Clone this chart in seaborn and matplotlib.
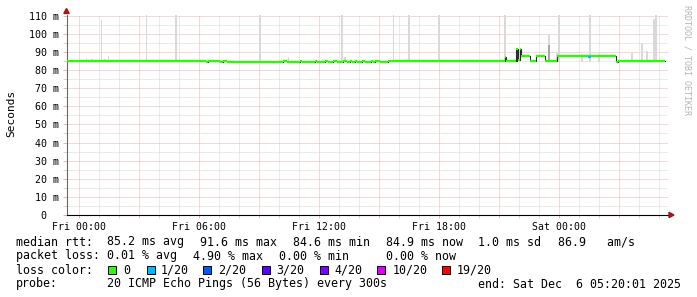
import matplotlib
matplotlib.use("Agg")
import matplotlib.pyplot as plt
import seaborn as sns
import numpy as np
from matplotlib.ticker import FixedLocator, MultipleLocator, FuncFormatter
from matplotlib.patches import Rectangle, Polygon

# ---------------- data ----------------
# time in hours relative to Fri 00:00
x_tick_hours = [0, 6, 12, 18, 24]
x_tick_labels = ["Fri 00:00", "Fri 06:00", "Fri 12:00", "Fri 18:00", "Sat 00:00"]
y_ticks = [0, 10, 20, 30, 40, 50, 60, 70, 80, 90, 100, 110]
y_tick_labels = ["0  ", "10 m", "20 m", "30 m", "40 m", "50 m", "60 m", "70 m",
                 "80 m", "90 m", "100 m", "110 m"]

# median rtt (ms) as step breakpoints
med_t = [-0.625, 6.35, 6.45, 7.05, 7.2, 7.4, 10.2, 10.4, 11.05, 11.15, 11.8, 11.9,
         12.3, 12.45, 12.7, 12.9, 13.2, 13.4, 13.55, 13.65, 13.8, 13.9, 14.15, 14.3,
         14.6, 14.7, 14.8, 15.05, 15.45, 21.275, 21.35, 21.825, 21.95, 22.025, 22.1,
         22.55, 22.85, 23.3, 23.9, 26.85, 26.95, 29.3]
med_v = [85.0, 84.4, 85.0, 84.4, 85.0, 84.4, 85.0, 84.4, 85.0, 84.4, 85.0, 84.4,
         85.0, 84.4, 85.0, 84.4, 85.0, 84.4, 85.0, 84.4, 85.0, 84.4, 85.0, 84.4,
         85.0, 84.4, 85.0, 84.4, 85.0, 87.3, 85.0, 91.5, 85.5, 91.5, 87.5,
         85.0, 87.5, 85.0, 87.6, 84.4, 85.0, 85.0]

# segment with packet loss (1/20)
loss_start = [25.425]
loss_end = [25.6]
loss_val = [87.3]
loss_level = [1]

# smoke (spread of pings): light spikes
smoke_t = [0.375, 0.635, 1.125, 1.30, 1.475, 3.375, 4.835, 9.05, 10.475, 13.15,
           13.30, 15.725, 16.375, 16.5, 18.0, 21.3, 23.5, 23.885, 24.015, 25.135,
           25.55, 26.0, 27.635, 28.135, 28.385, 28.75, 28.835]
smoke_top = [86.6, 86.1, 107.6, 86.1, 87.7, 115, 115, 115, 87.2, 115,
             87.2, 115, 86.1, 115, 115, 115, 99.3, 89.4, 115, 88.9,
             115, 88.9, 89.4, 94.9, 90.5, 108.0, 115]
smoke_base = 84.5
# dense smoke
dark_t = [21.8, 21.93, 22.05]
dark_lo = [84.4, 84.4, 84.4]
dark_hi = [91.9, 91.9, 91.9]
mid_t = [23.5]
mid_lo = [85.5]
mid_hi = [93.8]

loss_colors = ["#26ff00", "#00b8ff", "#0059ff", "#5e00ff", "#7e00ff", "#dd00ff", "#ff0000"]
loss_labels = ["0", "1/20", "2/20", "3/20", "4/20", "10/20", "19/20"]

rtt_head = "median rtt:"
rtt_items = ["85.2 ms avg", "91.6 ms max", "84.6 ms min", "84.9 ms now", "1.0 ms sd", "86.9   am/s"]
loss_head = "packet loss:"
loss_items = ["0.01 % avg", "4.90 % max", "0.00 % min", "0.00 % now"]
color_head = "loss color:"
probe_head = "probe:"
probe_items = ["20 ICMP Echo Pings (56 Bytes) every 300s", "end: Sat Dec  6 05:20:01 2025"]

# ---------------- style / layout ----------------
sns.set_theme(style="white")
plt.rcParams["font.family"] = ["DejaVu Sans Mono"]

W, H = 697, 297
def fx(x):
    return x / W
def fy(y):
    return 1 - y / H

fig = plt.figure(figsize=(W / 100, H / 100), dpi=100)
fig.patch.set_facecolor("white")
PX_PER_MS = 1.812
ax = fig.add_axes([fx(66.5), fy(215), (668 - 66.5) / W, 110.5 * PX_PER_MS / H])
ax.set_facecolor("white")
ax.set_xlim(-0.625, 29.45)
ax.set_ylim(0, 110.5)

MAJ = "#ebb5b5"
MIN = "#d6d6d6"
ax.yaxis.set_major_locator(FixedLocator(y_ticks))
ax.set_yticklabels(y_tick_labels)
ax.yaxis.set_minor_locator(FixedLocator([v + 5 for v in y_ticks[:-1]]))
ax.xaxis.set_major_locator(FixedLocator(np.arange(0, 29.5, 3)))
ax.xaxis.set_minor_locator(MultipleLocator(1))
lab = dict(zip(x_tick_hours, x_tick_labels))
ax.xaxis.set_major_formatter(FuncFormatter(lambda v, p: lab.get(int(round(v)), "")))

ax.grid(which="major", color=MAJ, linestyle=(0, (1, 1)), linewidth=0.72)
ax.grid(which="minor", color=MIN, linestyle=(0, (1, 1)), linewidth=0.72)
ax.set_axisbelow(True)

ax.tick_params(axis="y", which="major", left=True, length=3, width=0.72, color=MAJ,
               labelsize=7.2, labelcolor="black", pad=2.5)
ax.tick_params(axis="y", which="minor", left=True, length=3, width=0.72, color=MIN)
ax.tick_params(axis="x", which="major", bottom=True, length=2, width=0.72, color=MAJ,
               labelsize=7.1, labelcolor="black", pad=3)
ax.tick_params(axis="x", which="minor", bottom=True, length=2, width=0.72, color=MIN)

for s in ["top", "right"]:
    ax.spines[s].set_visible(False)
ax.spines["left"].set_color("#666666")
ax.spines["left"].set_linewidth(0.8)
ax.spines["bottom"].set_color("black")
ax.spines["bottom"].set_linewidth(0.8)

# ---------------- marks ----------------
ax.bar(smoke_t, np.array(smoke_top) - smoke_base, bottom=smoke_base, width=0.09,
       color="#d9d9d9", linewidth=0, zorder=2)
ax.bar(mid_t, np.array(mid_hi) - np.array(mid_lo), bottom=mid_lo, width=0.07,
       color="#a8a8a8", linewidth=0, zorder=2.5)
ax.bar(dark_t, np.array(dark_hi) - np.array(dark_lo), bottom=dark_lo, width=0.045,
       color="#303030", linewidth=0, zorder=2.6)

sns.lineplot(x=med_t, y=med_v, drawstyle="steps-post", color="#2a2a2a",
             linewidth=0.8, ax=ax, zorder=3)
ax.hlines(med_v[:-1], med_t[:-1], med_t[1:], color=loss_colors[0], linewidth=1.6, zorder=4)
ax.hlines(loss_val, loss_start, loss_end, color=[loss_colors[i] for i in loss_level],
          linewidth=1.6, zorder=5)
ax.set_xlabel("")
ax.set_ylabel("")

# arrows
fig.patches.append(Polygon([[fx(63.8), fy(13.5)], [fx(69.2), fy(13.5)], [fx(66.5), fy(8.5)]],
                           closed=True, transform=fig.transFigure, color="#a01818", zorder=10))
fig.patches.append(Polygon([[fx(669), fy(212.3)], [fx(669), fy(217.7)], [fx(674), fy(215)]],
                           closed=True, transform=fig.transFigure, color="#a01818", zorder=10))

# texts
fig.text(fx(11), fy(113.5), "Seconds", rotation=90, ha="center", va="center", fontsize=8, color="black")
fig.text(fx(687.5), fy(60), "RRDTOOL / TOBI OETIKER", rotation=270, ha="center", va="center",
         fontsize=6, color="#b4b4b4")

FS = 8.4
def put(x, y, s):
    fig.text(fx(x), fy(y), s, ha="left", va="baseline", fontsize=FS, color="black")

put(16, 245.5, rtt_head)
for x, s in zip([107.3, 200, 293.3, 386, 478.3, 558.3], rtt_items):
    put(x, 245.5, s)
put(16, 259.5, loss_head)
for x, s in zip([107.3, 192.7, 278.7, 386], loss_items):
    put(x, 259.5, s)
put(16, 273.5, color_head)
sq_x = [108.3, 146.7, 203.3, 261.7, 320, 377.3, 442.3]
lab_x = [123.3, 160.7, 218.3, 276.7, 334.0, 392.3, 456.7]
for sx, lx, c, s in zip(sq_x, lab_x, loss_colors, loss_labels):
    fig.patches.append(Rectangle((fx(sx), fy(273.5)), 8 / W, 8 / H, transform=fig.transFigure,
                                 facecolor=c, edgecolor="black", linewidth=0.7))
    put(lx, 273.5, s)
put(16, 287.5, probe_head)
put(107.3, 287.5, probe_items[0])
put(478.3, 287.5, probe_items[1])

fig.savefig("out.png", dpi=100, facecolor="white")
